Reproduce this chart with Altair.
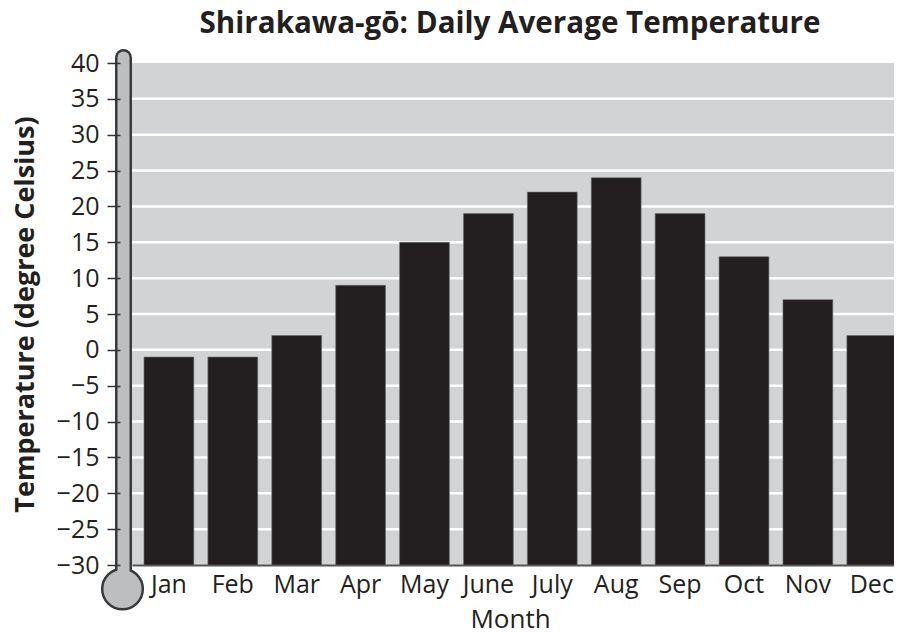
import altair as alt
import pandas as pd

months = ["Jan", "Feb", "Mar", "Apr", "May", "June", "July", "Aug", "Sep", "Oct", "Nov", "Dec"]
temps = [-1, -1, 2, 9, 15, 19, 22, 24, 19, 13, 7, 2]
ticks = list(range(-30, 45, 5))
grid_lines = list(range(-25, 40, 5))
ink = "#231f20"
font = "Open Sans"

df = pd.DataFrame({"month": months, "temp": temps, "base": [-30] * 12})
grid_df = pd.DataFrame({"t": grid_lines})
yscale = alt.Scale(domain=[-30, 40], nice=False)
xscale = alt.Scale(domain=months, range=[0, 768.7], paddingInner=0.22, paddingOuter=0.125, align=0.75)

y_axis = alt.Axis(
    title="Temperature (degree Celsius)", values=ticks, grid=False, domain=False,
    offset=12, tickSize=13, tickColor="#333333", tickWidth=1.5, zindex=1,
    labelFontSize=25, labelColor=ink, labelFont=font, labelPadding=8,
    titleFontSize=27, titleColor=ink, titleFont=font, titleFontWeight="bold",
    titlePadding=17,
)

grid = alt.Chart(grid_df).mark_rule(color="#ffffff", strokeWidth=2.5).encode(
    y=alt.Y("t:Q", scale=yscale, axis=y_axis)
)

bars = alt.Chart(df).mark_bar(color=ink, stroke="#6d6e71", strokeWidth=0.6).encode(
    x=alt.X(
        "month:N", sort=months, scale=xscale,
        axis=alt.Axis(
            title="Month", ticks=False, domain=True, domainColor="#555555", domainWidth=2,
            labelAngle=0, labelFontSize=25, labelColor=ink, labelFont=font, labelPadding=7,
            titleFontSize=26, titleColor=ink, titleFont=font, titleFontWeight="normal",
            titlePadding=9, titleX=378, labelOverlap=False,
        ),
    ),
    y=alt.Y("temp:Q", scale=yscale, axis=y_axis),
    y2="base:Q",
)

deco = pd.DataFrame({"k": [0]})
tube_outer = alt.Chart(deco).mark_rule(color="#3a3a3c", strokeWidth=17, strokeCap="round").encode(
    x=alt.value(-8.5), y=alt.value(-5.5), y2=alt.value(510)
)
tube_inner = alt.Chart(deco).mark_rule(color="#bcbec0", strokeWidth=12, strokeCap="round").encode(
    x=alt.value(-8.5), y=alt.value(-5.5), y2=alt.value(515)
)
bulb = alt.Chart(deco).mark_point(
    filled=True, shape="circle", fill="#bcbec0", stroke="#3a3a3c", strokeWidth=2.5, size=1650, opacity=1
).encode(x=alt.value(-9.5), y=alt.value(526))

chart = (
    alt.layer(grid, bars, tube_outer, bulb, tube_inner)
    .properties(
        width=762, height=502,
        autosize=alt.AutoSizeParams(type="none"),
        padding={"left": 124, "top": 55, "right": 0, "bottom": 68},
        title=alt.TitleParams(
            "Shirakawa-gō: Daily Average Temperature", font=font, fontSize=29.6, fontWeight="bold",
            color=ink, anchor="middle", dx=-3, offset=9,
        ),
        background="#ffffff",
    )
    .configure_view(fill="#d1d3d4", stroke=None)
)

chart.save("out.html", embed_options={"renderer": "svg", "actions": False})
